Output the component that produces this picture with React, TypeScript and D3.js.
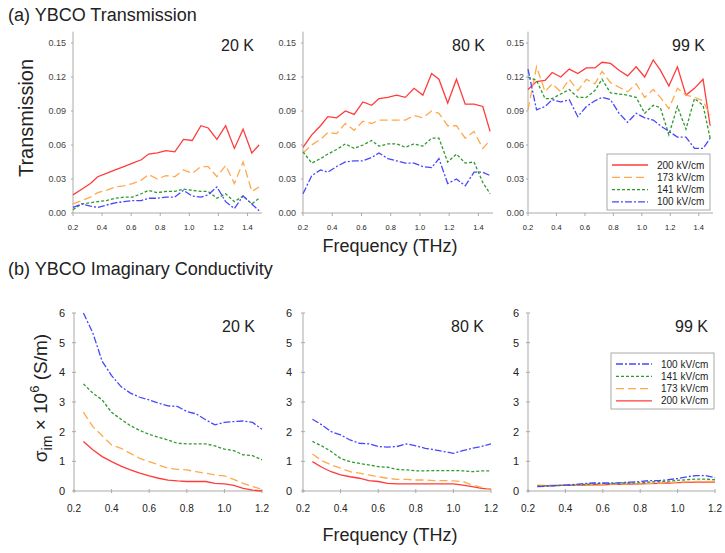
import React from "react";
import * as d3 from "d3";

// transmission frequencies (THz)
const freqT = [0.2, 0.26, 0.32, 0.37, 0.43, 0.49, 0.55, 0.61, 0.67, 0.72, 0.78, 0.84, 0.9, 0.96, 1.02, 1.08, 1.13, 1.19, 1.25, 1.31, 1.37, 1.43, 1.48];

const t20_200 = [0.016, 0.021, 0.026, 0.032, 0.035, 0.038, 0.041, 0.044, 0.047, 0.052, 0.053, 0.055, 0.054, 0.065, 0.064, 0.077, 0.075, 0.065, 0.077, 0.057, 0.074, 0.053, 0.06];
const t20_173 = [0.008, 0.011, 0.014, 0.018, 0.02, 0.023, 0.024, 0.026, 0.029, 0.034, 0.03, 0.033, 0.032, 0.038, 0.035, 0.041, 0.041, 0.032, 0.042, 0.026, 0.045, 0.019, 0.023];
const t20_141 = [0.003, 0.008, 0.009, 0.01, 0.011, 0.013, 0.014, 0.014, 0.017, 0.02, 0.018, 0.019, 0.019, 0.021, 0.02, 0.019, 0.019, 0.013, 0.017, 0.01, 0.015, 0.008, 0.013];
const t20_100 = [0.005, 0.008, 0.006, 0.005, 0.007, 0.009, 0.01, 0.011, 0.011, 0.013, 0.013, 0.014, 0.014, 0.02, 0.015, 0.014, 0.016, 0.023, 0.01, 0.004, 0.015, 0.008, 0.002];

const t80_200 = [0.058, 0.069, 0.077, 0.085, 0.084, 0.09, 0.087, 0.098, 0.095, 0.101, 0.102, 0.104, 0.102, 0.11, 0.104, 0.123, 0.118, 0.097, 0.118, 0.096, 0.096, 0.094, 0.072];
const t80_173 = [0.053, 0.06, 0.065, 0.071, 0.07, 0.079, 0.073, 0.081, 0.079, 0.082, 0.082, 0.082, 0.082, 0.086, 0.084, 0.09, 0.088, 0.077, 0.077, 0.066, 0.072, 0.057, 0.064];
const t80_141 = [0.054, 0.044, 0.048, 0.052, 0.056, 0.061, 0.057, 0.06, 0.064, 0.059, 0.061, 0.061, 0.058, 0.061, 0.059, 0.066, 0.066, 0.045, 0.052, 0.044, 0.045, 0.027, 0.017];
const t80_100 = [0.017, 0.033, 0.038, 0.036, 0.041, 0.045, 0.046, 0.046, 0.049, 0.053, 0.048, 0.046, 0.044, 0.044, 0.041, 0.04, 0.048, 0.026, 0.03, 0.024, 0.036, 0.036, 0.033];

const t99_200 = [0.109, 0.116, 0.117, 0.124, 0.12, 0.127, 0.123, 0.128, 0.128, 0.133, 0.132, 0.126, 0.121, 0.129, 0.12, 0.135, 0.126, 0.112, 0.129, 0.104, 0.11, 0.118, 0.077];
const t99_173 = [0.091, 0.129, 0.107, 0.114, 0.107, 0.118, 0.108, 0.118, 0.114, 0.125, 0.115, 0.111, 0.107, 0.114, 0.102, 0.109, 0.102, 0.092, 0.11, 0.104, 0.102, 0.099, 0.086];
const t99_141 = [0.12, 0.117, 0.101, 0.101, 0.105, 0.109, 0.102, 0.102, 0.108, 0.118, 0.106, 0.105, 0.104, 0.102, 0.088, 0.095, 0.093, 0.069, 0.094, 0.074, 0.101, 0.095, 0.066];
const t99_100 = [0.127, 0.091, 0.094, 0.1, 0.098, 0.1, 0.085, 0.094, 0.099, 0.102, 0.1, 0.088, 0.08, 0.088, 0.084, 0.082, 0.077, 0.072, 0.067, 0.067, 0.057, 0.057, 0.066];

// conductivity frequencies (THz)
const freqC = [0.25, 0.3, 0.35, 0.4, 0.45, 0.5, 0.55, 0.6, 0.65, 0.7, 0.75, 0.8, 0.85, 0.9, 0.95, 1.0, 1.05, 1.1, 1.15, 1.2];

const c20_100 = [6.0, 5.33, 4.37, 3.89, 3.52, 3.3, 3.16, 3.07, 2.96, 2.87, 2.85, 2.68, 2.6, 2.4, 2.23, 2.31, 2.34, 2.36, 2.31, 2.08];
const c20_141 = [3.61, 3.3, 3.07, 2.65, 2.42, 2.2, 2.04, 1.91, 1.81, 1.72, 1.61, 1.59, 1.59, 1.59, 1.52, 1.41, 1.36, 1.22, 1.19, 1.05];
const c20_173 = [2.66, 2.17, 1.86, 1.55, 1.44, 1.27, 1.1, 0.99, 0.88, 0.77, 0.73, 0.71, 0.65, 0.6, 0.54, 0.51, 0.39, 0.26, 0.15, 0.06];
const c20_200 = [1.67, 1.39, 1.16, 0.99, 0.84, 0.71, 0.6, 0.51, 0.43, 0.37, 0.34, 0.32, 0.32, 0.32, 0.26, 0.24, 0.19, 0.09, 0.03, 0.0];

const c80_100 = [2.42, 2.23, 2.0, 1.89, 1.72, 1.61, 1.59, 1.5, 1.48, 1.5, 1.59, 1.52, 1.44, 1.39, 1.33, 1.27, 1.36, 1.44, 1.5, 1.59];
const c80_141 = [1.67, 1.52, 1.33, 1.1, 0.99, 0.93, 0.88, 0.82, 0.8, 0.73, 0.71, 0.68, 0.68, 0.69, 0.69, 0.69, 0.68, 0.65, 0.68, 0.68];
const c80_173 = [1.25, 1.02, 0.88, 0.77, 0.65, 0.6, 0.54, 0.48, 0.43, 0.39, 0.39, 0.37, 0.37, 0.35, 0.35, 0.34, 0.32, 0.2, 0.12, 0.06];
const c80_200 = [0.99, 0.8, 0.65, 0.54, 0.48, 0.43, 0.35, 0.32, 0.26, 0.24, 0.24, 0.24, 0.24, 0.24, 0.24, 0.24, 0.2, 0.15, 0.09, 0.06];

const c99_100 = [0.15, 0.16, 0.18, 0.2, 0.22, 0.25, 0.27, 0.27, 0.27, 0.28, 0.3, 0.32, 0.35, 0.35, 0.38, 0.42, 0.48, 0.52, 0.52, 0.45];
const c99_141 = [0.16, 0.17, 0.18, 0.19, 0.2, 0.22, 0.24, 0.25, 0.25, 0.27, 0.27, 0.28, 0.3, 0.32, 0.33, 0.36, 0.38, 0.4, 0.4, 0.38];
const c99_173 = [0.2, 0.19, 0.19, 0.2, 0.2, 0.21, 0.22, 0.22, 0.23, 0.23, 0.24, 0.25, 0.26, 0.27, 0.28, 0.3, 0.31, 0.32, 0.32, 0.32];
const c99_200 = [0.18, 0.18, 0.19, 0.19, 0.2, 0.2, 0.21, 0.21, 0.22, 0.22, 0.23, 0.24, 0.25, 0.26, 0.27, 0.28, 0.29, 0.3, 0.3, 0.3];

const fields = ["200 kV/cm", "173 kV/cm", "141 kV/cm", "100 kV/cm"];
const temps = ["20 K", "80 K", "99 K"];
const xTicksT = [0.2, 0.4, 0.6, 0.8, 1.0, 1.2, 1.4];
const yTicksT = [0, 0.03, 0.06, 0.09, 0.12, 0.15];
const xTicksC = [0.2, 0.4, 0.6, 0.8, 1.0, 1.2];
const yTicksC = [0, 1, 2, 3, 4, 5, 6];

const transData = [
  [t20_200, t20_173, t20_141, t20_100],
  [t80_200, t80_173, t80_141, t80_100],
  [t99_200, t99_173, t99_141, t99_100],
];
const condData = [
  [c20_200, c20_173, c20_141, c20_100],
  [c80_200, c80_173, c80_141, c80_100],
  [c99_200, c99_173, c99_141, c99_100],
];

const styles = [
  { color: "#ff3b3b", dash: "none" },
  { color: "#ffa94d", dash: "8,4" },
  { color: "#2e9a2e", dash: "3,2" },
  { color: "#4747ff", dash: "7,2,2,2" },
];

const FONT = "'Liberation Sans', Arial, sans-serif";
const TXT = "#222";
const AX = "#aaa";

const topPanels = [
  { x0: 73, x1: 262, lab: 7 },
  { x0: 303, x1: 493, lab: 7 },
  { x0: 528, x1: 713, lab: 4 },
];
const botPanels = [
  { x0: 74, x1: 262, lab: 9 },
  { x0: 303, x1: 491, lab: 11 },
  { x0: 528, x1: 715, lab: 9 },
];

function Legend({ x, y, order }: { x: number; y: number; order: number[] }) {
  const w = 103;
  const h = 56;
  return (
    <g>
      <rect x={x} y={y} width={w} height={h} fill="#fff" stroke="#aaa" strokeWidth={1} />
      {order.map((si, i) => {
        const ry = y + 11 + i * 12.3;
        return (
          <g key={si}>
            <line x1={x + 5} x2={x + 41} y1={ry} y2={ry} stroke={styles[si].color} strokeWidth={1.3} strokeDasharray={styles[si].dash} />
            <text x={x + 50} y={ry + 3.5} fontSize={10} fontFamily={FONT} fill={TXT}>{fields[si]}</text>
          </g>
        );
      })}
    </g>
  );
}

export default function App() {
  const yT = d3.scaleLinear().domain([0, 0.16]).range([213, 213 - (170 / 0.15) * 0.16]);
  const yC = d3.scaleLinear().domain([0, 6]).range([491, 313]);

  return (
    <svg width={725} height={553} style={{ display: "block", position: "absolute", left: 0, top: 0, background: "#fff" }}>
      <text x={8} y={21} fontSize={18} fontFamily={FONT} fill={TXT}>(a) YBCO Transmission</text>
      <text x={8} y={275} fontSize={18} fontFamily={FONT} fill={TXT}>(b) YBCO Imaginary Conductivity</text>

      <text transform="translate(33,118) rotate(-90)" textAnchor="middle" fontSize={20} fontFamily={FONT} fill={TXT}>Transmission</text>
      <text transform="translate(47,398) rotate(-90)" textAnchor="middle" fontSize={19} fontFamily={FONT} fill={TXT}>
        σ<tspan fontSize={14} dy={5}>im</tspan>
        <tspan dy={-5}> × 10</tspan>
        <tspan fontSize={13} dy={-8}>6</tspan>
        <tspan dy={8}> (S/m)</tspan>
      </text>

      <text x={390} y={252} textAnchor="middle" fontSize={18} fontFamily={FONT} fill={TXT}>Frequency (THz)</text>
      <text x={390} y={541} textAnchor="middle" fontSize={18} fontFamily={FONT} fill={TXT}>Frequency (THz)</text>

      {topPanels.map((p, pi) => {
        const x = d3.scaleLinear().domain([0.2, 1.5]).range([p.x0, p.x1]);
        const line = d3.line<number>().x((_, i) => x(freqT[i])).y((v) => yT(v));
        return (
          <g key={"t" + pi}>
            <line x1={p.x0} x2={p.x0} y1={yT(0)} y2={yT(0.16)} stroke={AX} />
            <line x1={p.x0} x2={p.x1} y1={yT(0)} y2={yT(0)} stroke={AX} />
            {xTicksT.map((t) => (
              <g key={t}>
                <line x1={x(t)} x2={x(t)} y1={yT(0)} y2={yT(0) + 3} stroke={AX} />
                <text x={x(t)} y={230} textAnchor="middle" fontSize={7.5} fontFamily={FONT} fill={TXT}>{t.toFixed(1)}</text>
              </g>
            ))}
            {yTicksT.map((t) => (
              <g key={t}>
                <line x1={p.x0 - 2} x2={p.x0} y1={yT(t)} y2={yT(t)} stroke={AX} />
                <text x={p.x0 - p.lab} y={yT(t) + 3} textAnchor="end" fontSize={9} fontFamily={FONT} fill="#444">{t.toFixed(2)}</text>
              </g>
            ))}
            {transData[pi].map((s, si) => (
              <path key={si} d={line(s) || ""} fill="none" stroke={styles[si].color} strokeWidth={1.3} strokeDasharray={styles[si].dash} />
            ))}
            <text x={p.x1 - 8} y={51} textAnchor="end" fontSize={16} fontFamily={FONT} fill={TXT}>{temps[pi]}</text>
          </g>
        );
      })}

      {botPanels.map((p, pi) => {
        const x = d3.scaleLinear().domain([0.2, 1.2]).range([p.x0, p.x1]);
        const line = d3.line<number>().x((_, i) => x(freqC[i])).y((v) => yC(v));
        return (
          <g key={"c" + pi}>
            <line x1={p.x0} x2={p.x0} y1={yC(0)} y2={yC(6)} stroke={AX} />
            <line x1={p.x0} x2={p.x1} y1={yC(0)} y2={yC(0)} stroke={AX} />
            {xTicksC.map((t) => (
              <g key={t}>
                <line x1={x(t)} x2={x(t)} y1={yC(0) - 2} y2={yC(0) + 2} stroke={AX} />
                <text x={x(t)} y={512} textAnchor="middle" fontSize={10} fontFamily={FONT} fill={TXT}>{t.toFixed(1)}</text>
              </g>
            ))}
            {yTicksC.map((t) => (
              <g key={t}>
                <line x1={p.x0 - 2} x2={p.x0 + 2} y1={yC(t)} y2={yC(t)} stroke={AX} />
                <text x={p.x0 - p.lab} y={yC(t) + 4} textAnchor="end" fontSize={11} fontFamily={FONT} fill={TXT}>{t}</text>
              </g>
            ))}
            {condData[pi].map((s, si) => (
              <path key={si} d={line(s) || ""} fill="none" stroke={styles[si].color} strokeWidth={1.3} strokeDasharray={styles[si].dash} />
            ))}
            <text x={p.x1 - 7} y={332} textAnchor="end" fontSize={16} fontFamily={FONT} fill={TXT}>{temps[pi]}</text>
          </g>
        );
      })}

      <Legend x={607} y={154} order={[0, 1, 2, 3]} />
      <Legend x={611} y={353} order={[3, 2, 1, 0]} />
    </svg>
  );
}
